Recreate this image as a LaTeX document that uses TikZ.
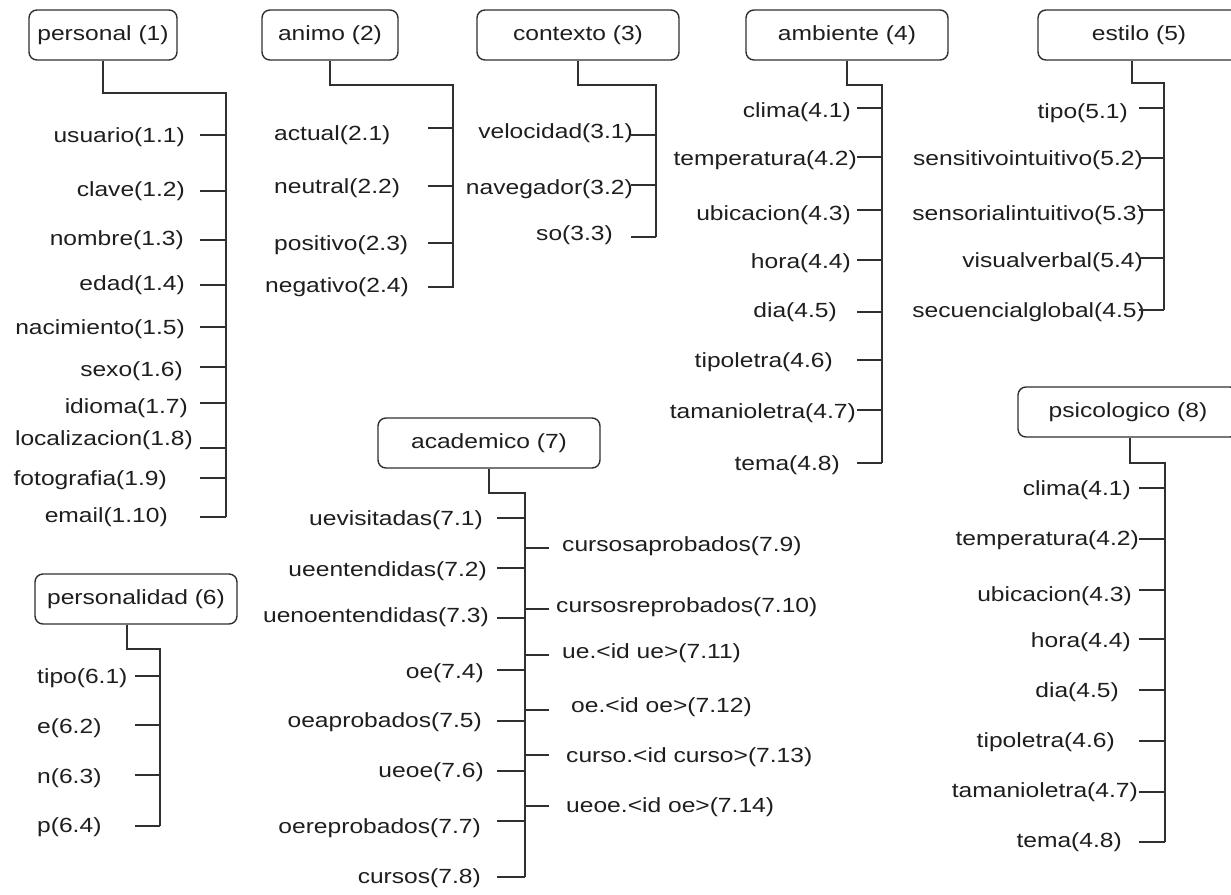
\documentclass[tikz,border=0pt]{standalone}
\usepackage{fontspec}
\setmainfont{Liberation Sans}[FakeStretch=1.2]
\definecolor{tc}{HTML}{1E1E1E}
\definecolor{lc}{HTML}{303030}
\newcommand{\lblfont}{\fontsize{20.5}{24}\selectfont}
\tikzset{
  cat/.style={draw=lc, line width=1.4pt, rounded corners=8pt, minimum height=50pt,
              inner sep=0pt, font=\lblfont, text=tc},
  leaf/.style={inner sep=0pt, text height=15pt, text depth=4.3pt, font=\lblfont, text=tc},
  bus/.style={draw=lc, line width=1.4pt},
}
\begin{document}
\begin{tikzpicture}[x=1pt,y=-1pt]
\clip (0,0) rectangle (1231,894);
\fill[white] (0,0) rectangle (1231,894);

% ---------- category boxes ----------
\node[cat, minimum width=148pt] (c1) at (103,35)  {personal (1)};
\node[cat, minimum width=136pt] (c2) at (330,35)  {animo (2)};
\node[cat, minimum width=202pt] (c3) at (578,35)  {contexto (3)};
\node[cat, minimum width=202pt] (c4) at (847,35)  {ambiente (4)};
\node[cat, minimum width=202pt] (c5) at (1139,35) {estilo (5)};
\node[cat, minimum width=202pt] (c6) at (136,599) {personalidad (6)};
\node[cat, minimum width=222pt] (c7) at (489,443) {academico (7)};
\node[cat, minimum width=220pt] (c8) at (1128,412) {psicologico (8)};

% ---------- trunks ----------
\coordinate (k1) at (103,93);   \coordinate (e1) at (226,517);
\coordinate (k2) at (330,85);   \coordinate (e2) at (453,288);
\coordinate (k3) at (578,85);   \coordinate (e3) at (656,237);
\coordinate (k4) at (847,85);   \coordinate (e4) at (882,463);
\coordinate (k5) at (1132,83);  \coordinate (e5) at (1164,310);
\coordinate (k6) at (127,649);  \coordinate (e6) at (160,826);
\coordinate (k7) at (489,493);  \coordinate (e7) at (525,877);
\coordinate (k8) at (1130,463); \coordinate (e8) at (1165,842);
\foreach \i in {1,...,8}
  \draw[bus] (c\i.south -| k\i) -- (k\i) -| (e\i);

% ---------- personal (1) ----------
\node[leaf, anchor=east] (l11) at (185,137) {usuario(1.1)};
\node[leaf, anchor=east] (l12) at (185,191) {clave(1.2)};
\node[leaf, anchor=east] (l13) at (184,240) {nombre(1.3)};
\node[leaf, anchor=east] (l14) at (185,285) {edad(1.4)};
\node[leaf, anchor=east] (l15) at (185,329) {nacimiento(1.5)};
\node[leaf, anchor=east] (l16) at (183,371) {sexo(1.6)};
\node[leaf, anchor=east] (l17) at (188,408) {idioma(1.7)};
\node[leaf, anchor=east] (l18) at (193,440) {localizacion(1.8)};
\node[leaf, anchor=east] (l19) at (167,480) {fotografia(1.9)};
\node[leaf, anchor=east] (l110) at (168,517) {email(1.10)};
\foreach \y in {135,191,240,285,327,367,403,448,478,517}
  \draw[bus] (200,\y) -- (e1 |- 0,\y);

% ---------- animo (2) ----------
\node[leaf, anchor=west] (l21) at (274,135) {actual(2.1)};
\node[leaf, anchor=west] (l22) at (274,188) {neutral(2.2)};
\node[leaf, anchor=west] (l23) at (274,245) {positivo(2.3)};
\node[leaf, anchor=west] (l24) at (265,287) {negativo(2.4)};
\foreach \y in {128,186,243,287}
  \draw[bus] (428,\y) -- (e2 |- 0,\y);

% ---------- contexto (3) ----------
\node[leaf, anchor=east] (l31) at (633,133) {velocidad(3.1)};
\node[leaf, anchor=east] (l32) at (633,189) {navegador(3.2)};
\node[leaf, anchor=east] (l33) at (613,235) {so(3.3)};
\foreach \y in {135,185,237}
  \draw[bus] (631,\y) -- (e3 |- 0,\y);

% ---------- ambiente (4) ----------
\node[leaf, anchor=east] (l41) at (851,112) {clima(4.1)};
\node[leaf, anchor=east] (l42) at (857,160) {temperatura(4.2)};
\node[leaf, anchor=east] (l43) at (851,215) {ubicacion(4.3)};
\node[leaf, anchor=east] (l44) at (851,263) {hora(4.4)};
\node[leaf, anchor=east] (l45) at (837,312) {dia(4.5)};
\node[leaf, anchor=east] (l46) at (833,362) {tipoletra(4.6)};
\node[leaf, anchor=east] (l47) at (856,413) {tamanioletra(4.7)};
\node[leaf, anchor=east] (l48) at (840,465) {tema(4.8)};
\foreach \y in {108,157,210,260,312,360,410,463}
  \draw[bus] (857,\y) -- (e4 |- 0,\y);

% ---------- estilo (5) ----------
\node[leaf, anchor=east] (l51) at (1128,113) {tipo(5.1)};
\node[leaf, anchor=east] (l52) at (1143,160) {sensitivointuitivo(5.2)};
\node[leaf, anchor=east] (l53) at (1145,215) {sensorialintuitivo(5.3)};
\node[leaf, anchor=east] (l54) at (1143,262) {visualverbal(5.4)};
\node[leaf, anchor=east] (l55) at (1145,312) {secuencialglobal(4.5)};
\foreach \y in {108,158,210,258,310}
  \draw[bus] (1139,\y) -- (e5 |- 0,\y);

% ---------- personalidad (6) ----------
\node[leaf, anchor=west] (l61) at (37,678) {tipo(6.1)};
\node[leaf, anchor=west] (l62) at (37,728) {e(6.2)};
\node[leaf, anchor=west] (l63) at (37,778) {n(6.3)};
\node[leaf, anchor=west] (l64) at (37,827) {p(6.4)};
\foreach \y in {676,725,775,826}
  \draw[bus] (135,\y) -- (e6 |- 0,\y);

% ---------- academico (7) ----------
\node[leaf, anchor=east] (l71) at (483,520) {uevisitadas(7.1)};
\node[leaf, anchor=east] (l72) at (487,571) {ueentendidas(7.2)};
\node[leaf, anchor=east] (l73) at (489,617) {uenoentendidas(7.3)};
\node[leaf, anchor=east] (l74) at (484,673) {oe(7.4)};
\node[leaf, anchor=east] (l75) at (482,722) {oeaprobados(7.5)};
\node[leaf, anchor=east] (l76) at (484,772) {ueoe(7.6)};
\node[leaf, anchor=east] (l77) at (481,828) {oereprobados(7.7)};
\node[leaf, anchor=east] (l78) at (481,878) {cursos(7.8)};
\foreach \y in {518,568,618,670,721,771,821,877}
  \draw[bus] (497,\y) -- (e7 |- 0,\y);
\node[leaf, anchor=west] (l79)  at (562,546) {cursosaprobados(7.9)};
\node[leaf, anchor=west] (l710) at (556,607) {cursosreprobados(7.10)};
\node[leaf, anchor=west] (l711) at (562,653) {ue.<id ue>(7.11)};
\node[leaf, anchor=west] (l712) at (571,707) {oe.<id oe>(7.12)};
\node[leaf, anchor=west] (l713) at (566,757) {curso.<id curso>(7.13)};
\node[leaf, anchor=west] (l714) at (566,807) {ueoe.<id oe>(7.14)};
\foreach \y in {548,609,655,710,755,806}
  \draw[bus] (e7 |- 0,\y) -- (549,\y);

% ---------- psicologico (8) ----------
\node[leaf, anchor=east] (l81) at (1131,490) {clima(4.1)};
\node[leaf, anchor=east] (l82) at (1139,540) {temperatura(4.2)};
\node[leaf, anchor=east] (l83) at (1132,596) {ubicacion(4.3)};
\node[leaf, anchor=east] (l84) at (1131,642) {hora(4.4)};
\node[leaf, anchor=east] (l85) at (1119,692) {dia(4.5)};
\node[leaf, anchor=east] (l86) at (1115,742) {tipoletra(4.6)};
\node[leaf, anchor=east] (l87) at (1138,792) {tamanioletra(4.7)};
\node[leaf, anchor=east] (l88) at (1122,842) {tema(4.8)};
\foreach \y in {488,539,590,639,690,741,792,842}
  \draw[bus] (1139,\y) -- (e8 |- 0,\y);
\end{tikzpicture}
\end{document}
